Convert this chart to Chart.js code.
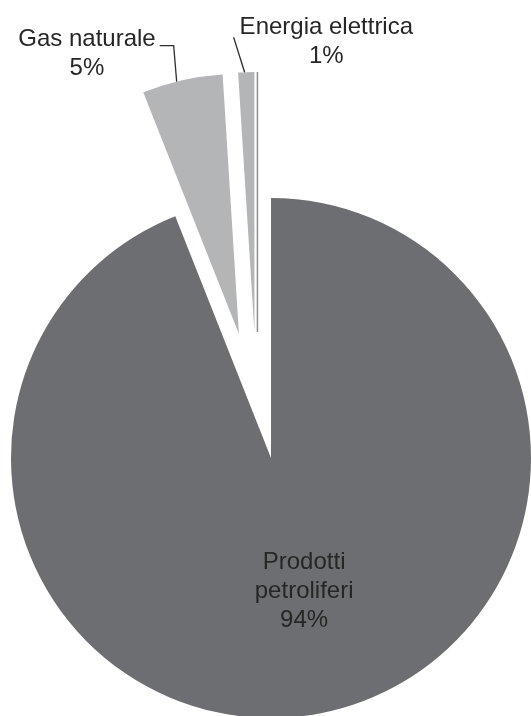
<!DOCTYPE html>
<html lang="it">
<head>
<meta charset="utf-8">
<title>Consumi energetici per fonte</title>
<script src="https://cdn.jsdelivr.net/npm/chart.js@4.4.1/dist/chart.umd.min.js"></script>
<style>
  html, body { margin: 0; padding: 0; background: #fff; }
  #wrap { position: relative; width: 531px; height: 716px; }
</style>
</head>
<body>
<div id="wrap"><canvas id="chart"></canvas></div>
<script>
// Quote dei consumi per fonte (%)
const categories = ['Prodotti petroliferi', 'Gas naturale', 'Energia elettrica'];
const shares = [94, 5, 1];
// Righe di testo delle etichette
const labelLines = [['Prodotti', 'petroliferi'], ['Gas naturale'], ['Energia elettrica']];

// Stile
const sliceColors = ['#6d6e71', '#b4b5b7', '#b4b5b7'];
const FONT = '24px "Liberation Sans", Arial, Helvetica, sans-serif';
const TEXT_COLOR = '#262626';
const LINE_H = 29;

// Spicchi staccati: distanza in px e direzione in gradi (orario dall'alto)
const explodeDist = [0, 128, 127];
const explodeDir = [0, -14.5, -7.5];

const explodePlugin = {
  id: 'explode',
  afterDatasetUpdate(chart, args) {
    args.meta.data.forEach((arc, i) => {
      const d = explodeDist[i];
      if (!d) return;
      const a = explodeDir[i] * Math.PI / 180;
      arc.x += Math.sin(a) * d;
      arc.y -= Math.cos(a) * d;
    });
  }
};

function arcPoint(arc, frac, r) {
  const t = arc.startAngle + (arc.endAngle - arc.startAngle) * frac;
  return { x: arc.x + Math.cos(t) * r, y: arc.y + Math.sin(t) * r };
}

const labelPlugin = {
  id: 'pieLabels',
  afterDatasetsDraw(chart) {
    const ctx = chart.ctx;
    const arcs = chart.getDatasetMeta(0).data;
    ctx.save();
    ctx.font = FONT;
    ctx.fillStyle = TEXT_COLOR;
    ctx.strokeStyle = '#2e2e2e';
    ctx.lineWidth = 1.3;

    // filo scuro lungo il bordo destro dello spicchio più piccolo
    const small = arcs[2];
    const te = small.endAngle;
    const nx = -Math.sin(te), ny = Math.cos(te);
    ctx.beginPath();
    ctx.strokeStyle = '#8d8e90';
    ctx.lineWidth = 1.5;
    ctx.moveTo(small.x + nx * 3, small.y + ny * 3);
    ctx.lineTo(small.x + nx * 3 + Math.cos(te) * small.outerRadius,
               small.y + ny * 3 + Math.sin(te) * small.outerRadius);
    ctx.stroke();

    // etichetta interna
    const main = arcs[0];
    const p = arcPoint(main, 0.49, main.outerRadius * 0.52);
    const mainLines = [...labelLines[0], shares[0] + '%'];
    ctx.textAlign = 'center';
    ctx.textBaseline = 'alphabetic';
    mainLines.forEach((t, k) => {
      ctx.fillText(t, p.x, p.y + 8.5 + (k - (mainLines.length - 1) / 2) * LINE_H);
    });

    ctx.strokeStyle = '#2e2e2e';
    ctx.lineWidth = 1.3;

    // Gas naturale: richiamo a squadra
    const gas = arcs[1];
    const g = arcPoint(gas, 0.43, gas.outerRadius);
    const gy = g.y - 36;
    ctx.beginPath();
    ctx.moveTo(g.x, g.y);
    ctx.lineTo(g.x - 3, gy);
    ctx.lineTo(g.x - 17, gy);
    ctx.stroke();
    const gw = ctx.measureText(labelLines[1][0]).width;
    const gcx = g.x - 21 - gw / 2;
    ctx.fillText(labelLines[1][0], gcx, gy);
    ctx.fillText(shares[1] + '%', gcx, gy + LINE_H);

    // Energia elettrica: richiamo obliquo
    const el = arcs[2];
    const e = arcPoint(el, 0.4, el.outerRadius);
    const ex = e.x - 11, ey = e.y - 35;
    ctx.beginPath();
    ctx.moveTo(e.x, e.y);
    ctx.lineTo(ex, ey);
    ctx.stroke();
    const ew = ctx.measureText(labelLines[2][0]).width;
    const ecx = ex + 6 + ew / 2;
    ctx.fillText(labelLines[2][0], ecx, ey - 3);
    ctx.fillText(shares[2] + '%', ecx, ey - 3 + LINE_H);

    ctx.restore();
  }
};

new Chart(document.getElementById('chart'), {
  type: 'pie',
  data: {
    labels: categories,
    datasets: [{
      data: shares,
      backgroundColor: sliceColors,
      borderWidth: 0,
      hoverOffset: 0,
      clip: false
    }]
  },
  options: {
    responsive: true,
    maintainAspectRatio: false,
    animation: false,
    events: [],
    radius: 260,
    layout: { padding: { top: 200, left: 11, right: 0, bottom: 0 } },
    plugins: {
      legend: { display: false },
      tooltip: { enabled: false }
    }
  },
  plugins: [explodePlugin, labelPlugin]
});
</script>
</body>
</html>
